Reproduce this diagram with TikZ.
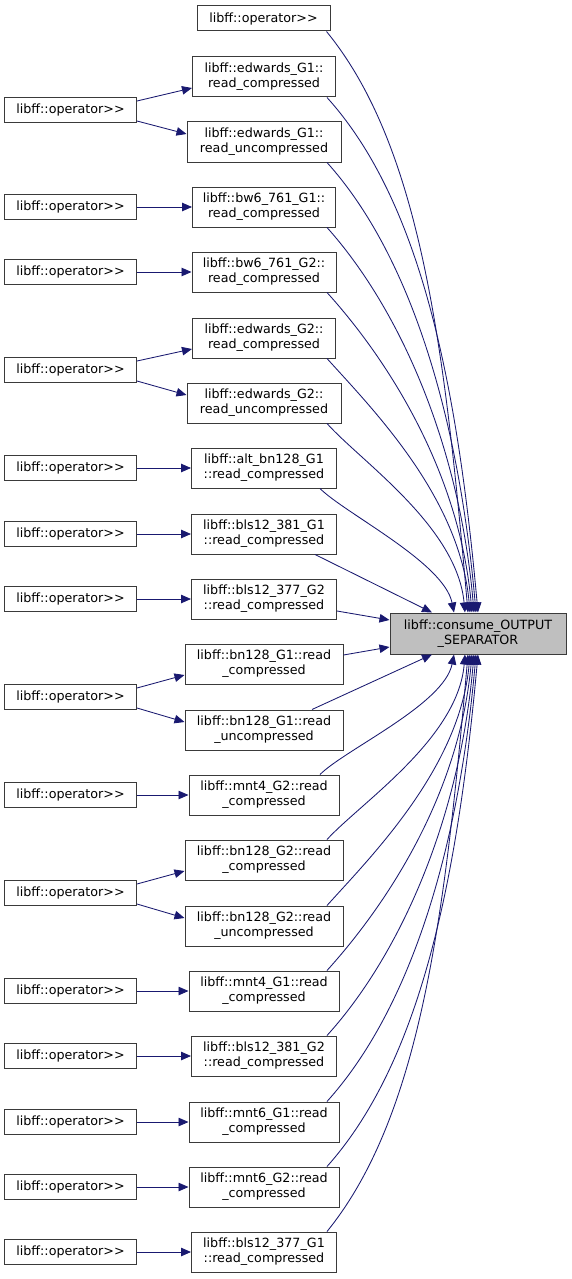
\documentclass[tikz,border=0pt]{standalone}
\usepackage{fontspec}
\setmainfont{DejaVu Sans}
\usetikzlibrary{arrows.meta}
\definecolor{edgeblue}{HTML}{191970}
\definecolor{boxborder}{HTML}{3A3A3A}
\definecolor{hilite}{HTML}{BFBFBF}
\begin{document}
\begin{tikzpicture}[x=1pt,y=-1pt,
  box/.style={draw=boxborder, line width=1pt, fill=white, inner sep=0pt, align=center,
    font=\fontsize{12.7}{15}\selectfont, minimum height=25pt},
  box2/.style={box, minimum height=40pt},
  edge/.style={draw=edgeblue, line width=0.85pt, -{Triangle[length=10pt,width=8.5pt]}}]
\useasboundingbox (0,0) rectangle (571,1279);
\fill[white] (0,0) rectangle (571,1279);

% target
\node[box2, minimum width=176pt, minimum height=41pt, fill=hilite] (c) at (478,633.5) {libff::consume\_OUTPUT\\\_SEPARATOR};

% middle column
\node[box, minimum width=133pt] (t0) at (263.5,18.5) {libff::operator>{}>};
\node[box2, minimum width=143pt] (m1) at (264,77) {libff::edwards\_G1::\\read\_compressed};
\node[box2, minimum width=154pt] (m2) at (264,142) {libff::edwards\_G1::\\read\_uncompressed};
\node[box2, minimum width=143pt] (m3) at (264,207) {libff::bw6\_761\_G1::\\read\_compressed};
\node[box2, minimum width=144pt] (m4) at (264,272) {libff::bw6\_761\_G2::\\read\_compressed};
\node[box2, minimum width=143pt] (m5) at (264,338) {libff::edwards\_G2::\\read\_compressed};
\node[box2, minimum width=154pt] (m6) at (264,403) {libff::edwards\_G2::\\read\_uncompressed};
\node[box2, minimum width=145pt] (m7) at (264,468) {libff::alt\_bn128\_G1\\::read\_compressed};
\node[box2, minimum width=145pt] (m8) at (264,534) {libff::bls12\_381\_G1\\::read\_compressed};
\node[box2, minimum width=145pt] (m9) at (264,599) {libff::bls12\_377\_G2\\::read\_compressed};
\node[box2, minimum width=158pt] (m10) at (264,664) {libff::bn128\_G1::read\\\_compressed};
\node[box2, minimum width=158pt] (m11) at (264,730) {libff::bn128\_G1::read\\\_uncompressed};
\node[box2, minimum width=150pt] (m12) at (264,795) {libff::mnt4\_G2::read\\\_compressed};
\node[box2, minimum width=158pt] (m13) at (264,860) {libff::bn128\_G2::read\\\_compressed};
\node[box2, minimum width=158pt] (m14) at (264,926) {libff::bn128\_G2::read\\\_uncompressed};
\node[box2, minimum width=150pt] (m15) at (264,991) {libff::mnt4\_G1::read\\\_compressed};
\node[box2, minimum width=145pt] (m16) at (264,1056) {libff::bls12\_381\_G2\\::read\_compressed};
\node[box2, minimum width=150pt] (m17) at (264,1122) {libff::mnt6\_G1::read\\\_compressed};
\node[box2, minimum width=150pt] (m18) at (264,1187) {libff::mnt6\_G2::read\\\_compressed};
\node[box2, minimum width=145pt] (m19) at (264,1252) {libff::bls12\_377\_G1\\::read\_compressed};

% left column
\foreach \n/\y in {l1/110,l3/207,l4/272,l5/370,l7/468,l8/534,l9/599,l10/697,l12/795,l13/893,l15/991,l16/1056,l17/1122,l18/1187,l19/1252}
  \node[box, minimum width=132pt] (\n) at (70.5,\y) {libff::operator>{}>};

% left -> middle
\foreach \a/\b in {l3/m3,l4/m4,l7/m7,l8/m8,l9/m9,l12/m12,l15/m15,l16/m16,l17/m17,l18/m18,l19/m19}
  \draw[edge] (\a.east) -- (\b.west);
\foreach \a/\b/\c in {l1/m1/m2,l5/m5/m6,l10/m10/m11,l13/m13/m14}{
  \draw[edge] ([yshift=9pt]\a.east) -- ([yshift=-11pt]\b.west);
  \draw[edge] ([yshift=-11pt]\a.east) -- ([yshift=8pt]\c.west);
}

% middle -> target, from above
\draw[edge] ([xshift=63pt]t0.south) .. controls +(95,116) and +(-23,-262) .. ([xshift=-10pt]c.north);
\draw[edge] ([xshift=63pt]m1.south) .. controls +(93,103) and +(-21,-232) .. ([xshift=0pt]c.north);
\draw[edge] ([xshift=63pt]m2.south) .. controls +(81,90) and +(-18,-203) .. ([xshift=-2pt]c.north);
\draw[edge] ([xshift=63pt]m3.south) .. controls +(69,77) and +(-15,-174) .. ([xshift=-4pt]c.north);
\draw[edge] ([xshift=63pt]m4.south) .. controls +(58,64) and +(-13,-144) .. ([xshift=-6pt]c.north);
\draw[edge] ([xshift=63pt]m5.south) .. controls +(46,51) and +(-10,-115) .. ([xshift=-8pt]c.north);
\draw[edge] ([xshift=63pt]m6.south) .. controls +(34,38) and +(-8,-86) .. ([xshift=-13pt]c.north);
\draw[edge] ([xshift=56pt]m7.south) .. controls +(25,25) and +(-10,-50) .. ([xshift=-24pt]c.north);
\draw[edge] ([xshift=51pt]m8.south) -- ([xshift=-46pt]c.north);
\draw[edge] ([yshift=-12pt]m9.east) -- ([yshift=13.5pt]c.west);

% middle -> target, from below
\draw[edge] ([yshift=9pt]m10.east) -- ([yshift=-13.5pt]c.west);
\draw[edge] ([xshift=48pt]m11.north) -- ([xshift=-46pt]c.south);
\draw[edge] ([xshift=56pt]m12.north) .. controls +(25,-25) and +(-10,50) .. ([xshift=-24pt]c.south);
\draw[edge] ([xshift=63pt]m13.north) .. controls +(34,-37) and +(-7,84) .. ([xshift=-13pt]c.south);
\draw[edge] ([xshift=63pt]m14.north) .. controls +(45,-50) and +(-10,113) .. ([xshift=-8pt]c.south);
\draw[edge] ([xshift=63pt]m15.north) .. controls +(57,-63) and +(-13,143) .. ([xshift=-6pt]c.south);
\draw[edge] ([xshift=63pt]m16.north) .. controls +(69,-76) and +(-15,172) .. ([xshift=-4pt]c.south);
\draw[edge] ([xshift=63pt]m17.north) .. controls +(81,-90) and +(-18,202) .. ([xshift=-2pt]c.south);
\draw[edge] ([xshift=63pt]m18.north) .. controls +(92,-103) and +(-21,231) .. ([xshift=0pt]c.south);
\draw[edge] ([xshift=63pt]m19.north) .. controls +(94,-116) and +(-23,261) .. ([xshift=-10pt]c.south);
\end{tikzpicture}
\end{document}
